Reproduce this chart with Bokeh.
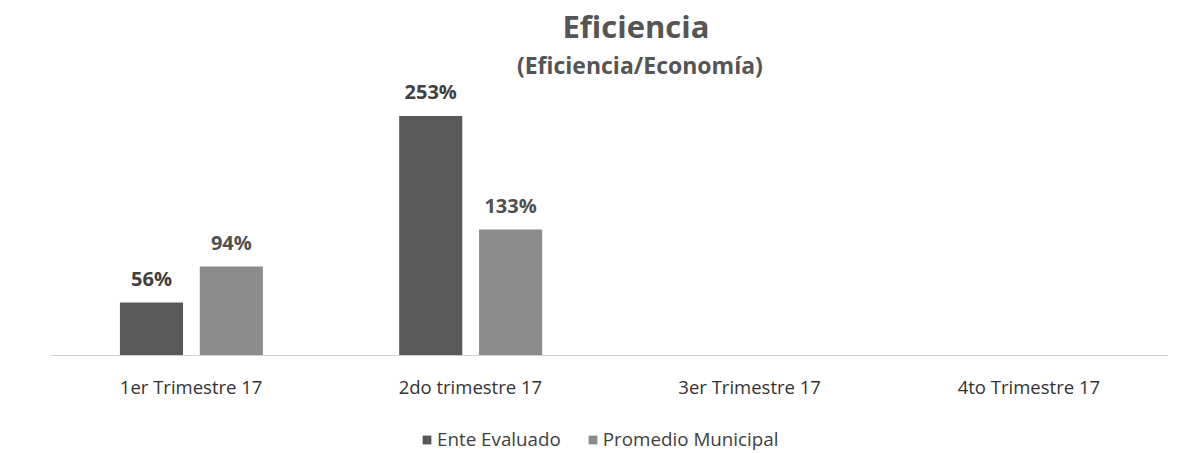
from bokeh.plotting import figure
from bokeh.models import ColumnDataSource, FactorRange, Label, Legend, LegendItem
from bokeh.transform import dodge
from bokeh.core.properties import value
from bokeh.embed import file_html
from bokeh.resources import INLINE

categories = ["1er Trimestre 17", "2do trimestre 17", "3er Trimestre 17", "4to Trimestre 17"]
series_names = ["Ente Evaluado", "Promedio Municipal"]
ente = [56, 253, None, None]
promedio = [94, 133, None, None]

title_text = "Eficiencia"
subtitle_text = "(Eficiencia/Economía)"

dark = "#595959"
light = "#8c8c8c"
FONT = "Open Sans"

def lbl(vals):
    return [("" if v is None else f"{v}%") for v in vals]

def num(vals):
    return [float("nan") if v is None else v for v in vals]

src = ColumnDataSource(dict(
    cat=categories,
    ente=num(ente), promedio=num(promedio),
    ente_lbl=lbl(ente), prom_lbl=lbl(promedio),
))

# frame spans the full height; baseline (y=0) sits 355 px from the top
p = figure(width=1177, height=453, output_backend="svg", toolbar_location=None,
           x_range=FactorRange(*categories), y_range=(-103.5, 375),
           min_border_left=51, min_border_right=9, min_border_top=0, min_border_bottom=0)
p.outline_line_color = None
p.xgrid.visible = False
p.ygrid.visible = False
p.yaxis.visible = False
p.x_range.range_padding = 0

r1 = p.vbar(x=dodge("cat", -0.142, range=p.x_range), top="ente", width=0.226,
            source=src, color=dark, line_color=None)
r2 = p.vbar(x=dodge("cat", 0.144, range=p.x_range), top="promedio", width=0.226,
            source=src, color=light, line_color=None)

p.text(x=dodge("cat", -0.142, range=p.x_range), y="ente", text="ente_lbl", source=src,
       text_align="center", text_baseline="alphabetic", y_offset=-24,
       text_font=value(FONT), text_font_style="bold", text_font_size="20px", text_color="#404040")
p.text(x=dodge("cat", 0.144, range=p.x_range), y="promedio", text="prom_lbl", source=src,
       text_align="center", text_baseline="alphabetic", y_offset=-24,
       text_font=value(FONT), text_font_style="bold", text_font_size="20px", text_color="#505050")

ax = p.xaxis[0]
ax.fixed_location = 0
ax.axis_line_color = "#d0d0d0"
ax.axis_line_width = 1
ax.major_tick_line_color = None
ax.minor_tick_line_color = None
ax.major_tick_out = 0
ax.major_label_standoff = 18
ax.major_label_text_font = FONT
ax.major_label_text_font_size = "18.5px"
ax.major_label_text_color = "#333333"

p.add_layout(Label(x=2.093, y=348.3, text=title_text, text_align="center", text_baseline="alphabetic",
                   text_font=FONT, text_font_style="bold", text_font_size="31px", text_color="#555555"))
p.add_layout(Label(x=2.107, y=306.4, text=subtitle_text, text_align="center", text_baseline="alphabetic",
                   text_font=FONT, text_font_style="bold", text_font_size="23px", text_color="#555555"))

legend = Legend(items=[LegendItem(label=series_names[0], renderers=[r1]),
                       LegendItem(label=series_names[1], renderers=[r2])],
                orientation="horizontal", location=(370, 1),
                padding=0, margin=0, spacing=26, label_standoff=5,
                glyph_width=11, glyph_height=11,
                label_text_font=FONT, label_text_font_size="18.8px", label_text_color="#404040",
                border_line_color=None, background_fill_alpha=0)
p.add_layout(legend, "center")

open("out.html", "w").write(file_html(p, INLINE))
